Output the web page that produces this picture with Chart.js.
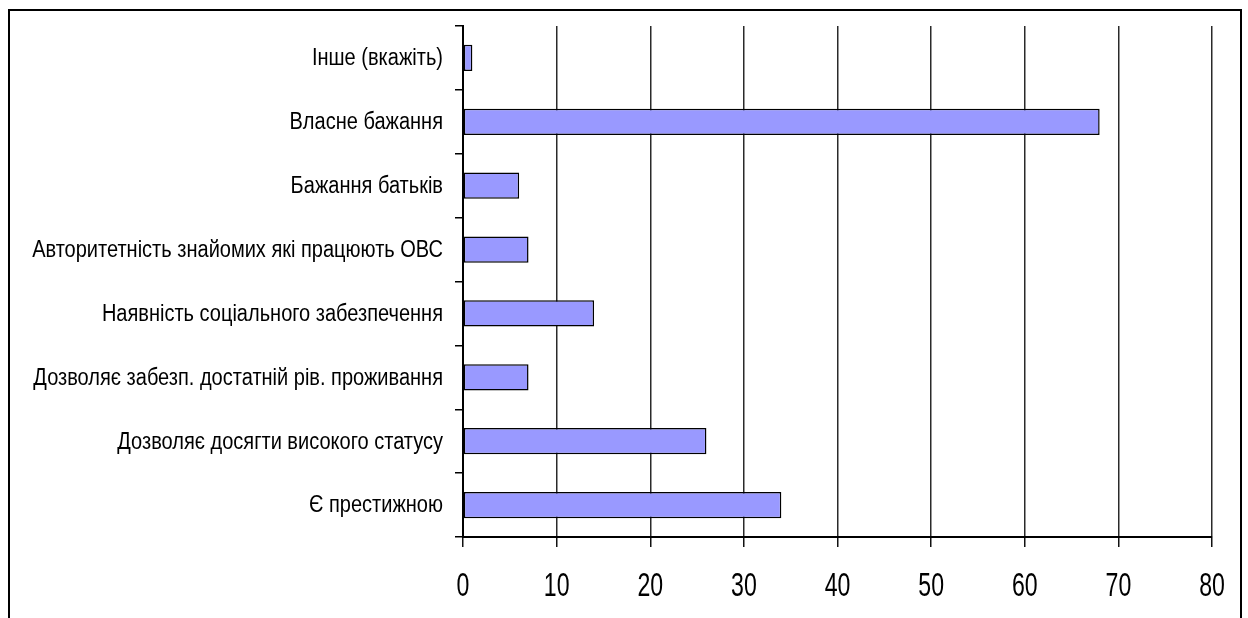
<!DOCTYPE html>
<html>
<head>
<meta charset="utf-8">
<script src="https://cdn.jsdelivr.net/npm/chart.js@4"></script>
<style>
  html, body { margin: 0; padding: 0; background: #fff; }
  #wrap { position: absolute; left: 0; top: 0; width: 1248px; height: 618px; }
  #frame {
    position: absolute; left: 8px; top: 9px; width: 1230px; height: 700px;
    border: 2px solid #000; pointer-events: none;
  }
</style>
</head>
<body>
<div id="wrap"><canvas id="chart" width="1248" height="618"></canvas></div>
<div id="frame"></div>
<script>
var reasons = [
  "Інше (вкажіть)",
  "Власне бажання",
  "Бажання батьків",
  "Авторитетність знайомих які працюють ОВС",
  "Наявність соціального забезпечення",
  "Дозволяє забезп. достатній рів. проживання",
  "Дозволяє досягти високого статусу",
  "Є престижною"
];
var answers = [1, 68, 6, 7, 14, 7, 26, 34];
var xMin = 0, xMax = 80, xStep = 10;

var fontFamily = "'Liberation Sans', Arial, sans-serif";

// no narrow face installed, so tick labels are squeezed horizontally by hand
var narrowLabels = {
  id: "narrowLabels",
  afterDraw: function (chart) {
    var c = chart.ctx;
    var ys = chart.scales.y, xs = chart.scales.x;
    c.save();
    c.fillStyle = "#000";
    c.textBaseline = "middle";
    c.textAlign = "right";
    c.font = "23px " + fontFamily;
    ys.ticks.forEach(function (t, i) {
      var y = ys.getPixelForTick(i);
      c.save();
      c.translate(ys.right - 20, y + 1);
      c.scale(0.87, 1);
      c.fillText(chart.data.labels[t.value], 0, 0);
      c.restore();
    });
    c.textBaseline = "alphabetic";
    c.textAlign = "center";
    c.font = "33px " + fontFamily;
    xs.ticks.forEach(function (t) {
      var x = xs.getPixelForValue(t.value);
      c.save();
      c.translate(x, xs.top + 59);
      c.scale(0.7, 1);
      c.fillText(String(t.value), 0, 0);
      c.restore();
    });
    c.restore();
  }
};

var ctx = document.getElementById("chart").getContext("2d");
new Chart(ctx, {
  type: "bar",
  data: {
    labels: reasons,
    datasets: [{
      data: answers,
      backgroundColor: "#9999ff",
      borderColor: "#000",
      borderWidth: 1.5,
      borderSkipped: false,
      categoryPercentage: 1,
      barPercentage: 0.41
    }]
  },
  options: {
    indexAxis: "y",
    responsive: false,
    animation: false,
    layout: { padding: { left: 0, right: 36, top: 26, bottom: 0 } },
    plugins: { legend: { display: false }, tooltip: { enabled: false } },
    scales: {
      x: {
        min: xMin, max: xMax,
        ticks: { stepSize: xStep, display: false },
        grid: { color: "#2a2a2a", lineWidth: 1.5, tickLength: 10, tickColor: "#111" },
        border: { color: "#000", width: 2 },
        afterFit: function (s) { s.height = 81; }
      },
      y: {
        ticks: { display: false },
        grid: { offset: true, drawOnChartArea: false, tickLength: 8, lineWidth: 1.5, color: "#000", tickColor: "#000" },
        border: { color: "#000", width: 2 },
        afterFit: function (s) { s.width = 463; }
      }
    }
  },
  plugins: [narrowLabels]
});
</script>
</body>
</html>
